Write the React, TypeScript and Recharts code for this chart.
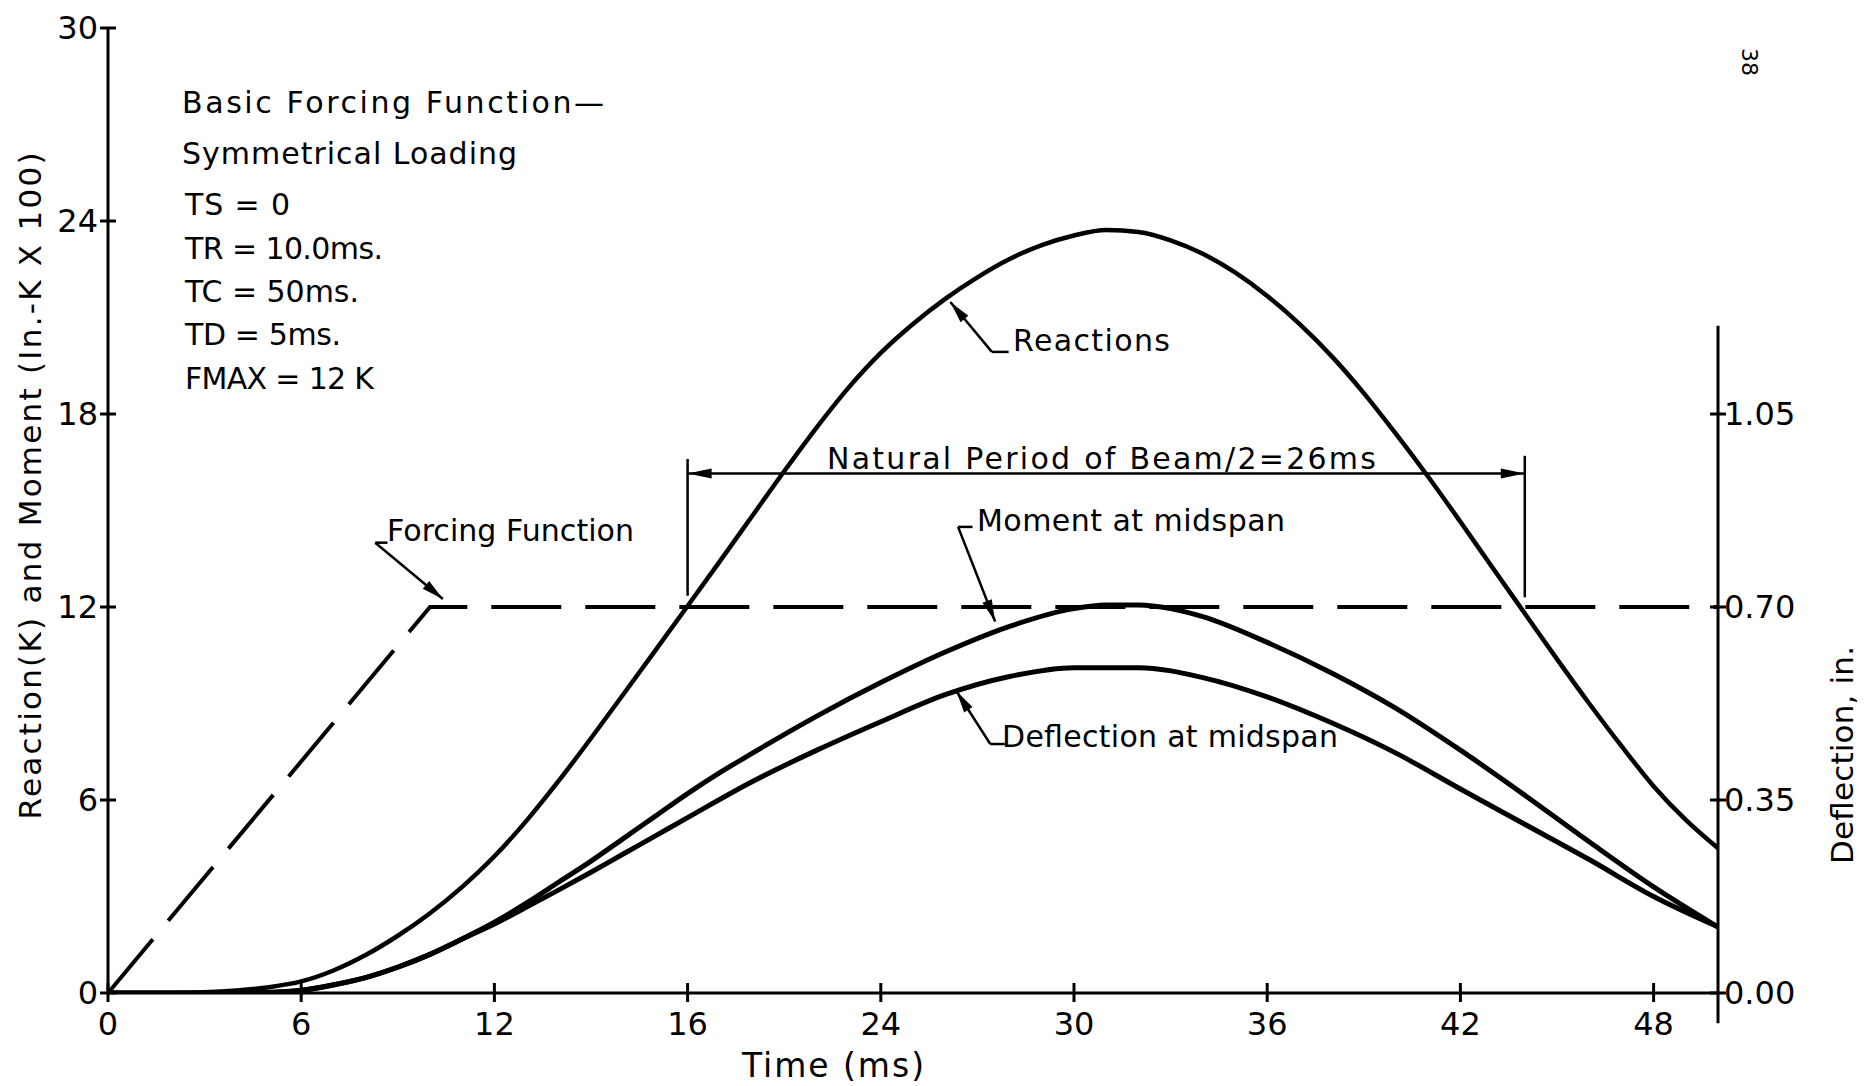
import React from 'react';
import { LineChart, Line, XAxis, YAxis, ReferenceLine } from 'recharts';

const W = 1876;
const H = 1086;
const FONT = '"DejaVu Sans", "Liberation Sans", sans-serif';

// ---- data (time in ms) ----
const reactionTime = [0, 2, 3, 4, 5, 6, 7, 8, 9, 10, 11, 12, 13, 14, 15, 16, 17, 18, 19, 20, 21, 22, 23, 24, 25, 26, 27, 28, 29, 30, 31, 32, 33, 34, 35, 36, 37, 38, 39, 40, 41, 42, 43, 44, 45, 46, 47, 48, 49, 50];
const reactionValue = [0, 0, 0.02, 0.08, 0.18, 0.36, 0.7, 1.18, 1.78, 2.48, 3.3, 4.25, 5.36, 6.6, 7.92, 9.28, 10.65, 12.03, 13.42, 14.82, 16.22, 17.57, 18.82, 19.9, 20.8, 21.58, 22.25, 22.82, 23.25, 23.55, 23.72, 23.66, 23.4, 22.98, 22.4, 21.67, 20.8, 19.8, 18.65, 17.38, 16.05, 14.65, 13.22, 11.8, 10.38, 9.0, 7.68, 6.43, 5.38, 4.5];

const momentTime = [0, 4, 5, 6, 7, 8, 9, 10, 11, 12, 13, 14, 15, 16, 17, 18, 19, 20, 22, 24, 26, 28, 30, 31, 32, 33, 34, 36, 38, 40, 42, 44, 46, 48, 50];
const momentValue = [0, 0, 0.02, 0.08, 0.25, 0.48, 0.8, 1.2, 1.68, 2.2, 2.8, 3.45, 4.1, 4.8, 5.5, 6.2, 6.85, 7.45, 8.6, 9.65, 10.6, 11.4, 11.95, 12.06, 12.06, 11.95, 11.7, 10.9, 9.95, 8.85, 7.55, 6.15, 4.7, 3.3, 2.05];

// deflection read on the right axis (inches)
const deflectionTime = [0, 4, 5, 6, 7, 8, 9, 10, 11, 12, 13, 14, 15, 16, 17, 18, 20, 22, 24, 26, 28, 30, 32, 34, 36, 38, 40, 42, 44, 46, 48, 50];
const deflectionValue = [0, 0, 0.001, 0.005, 0.015, 0.028, 0.047, 0.07, 0.098, 0.125, 0.156, 0.187, 0.219, 0.252, 0.285, 0.318, 0.383, 0.44, 0.492, 0.541, 0.574, 0.59, 0.59, 0.572, 0.537, 0.49, 0.435, 0.37, 0.306, 0.242, 0.175, 0.12];

const forcingTime = [0, 10, 50];
const forcingValue = [0, 12, 12];

const xTicks = [0, 6, 12, 18, 24, 30, 36, 42, 48];
const xTickLabels = ['0', '6', '12', '16', '24', '30', '36', '42', '48'];
const leftTicks = [0, 6, 12, 18, 24, 30];
const leftTickLabels = ['0', '6', '12', '18', '24', '30'];
const rightTicks = [0, 0.35, 0.7, 1.05];
const rightTickLabels = ['0.00', '0.35', '0.70', '1.05'];

const zip = (t: number[], v: number[]) => t.map((x, i) => ({ t: x, v: v[i] }));
const reactionData = zip(reactionTime, reactionValue);
const momentData = zip(momentTime, momentValue);
const deflectionData = zip(deflectionTime, deflectionValue);
const forcingData = zip(forcingTime, forcingValue);

const TICK_FS = 32;
const AXW = 60;

const XTick = (props: any) => {
  const { x, y, payload } = props;
  const i = xTicks.indexOf(payload.value);
  return (
    <g>
      <line x1={x} x2={x} y1={y - 10} y2={y + 9} stroke="#000" strokeWidth={3} />
      <text x={x} y={y + 31} textAnchor="middle" dominantBaseline="central" fontSize={TICK_FS} fontFamily={FONT} fill="#000">
        {xTickLabels[i]}
      </text>
    </g>
  );
};

const LeftTick = (props: any) => {
  const { x, y, payload } = props;
  const i = leftTicks.indexOf(payload.value);
  return (
    <g>
      <line x1={x - 8} x2={x + 8} y1={y} y2={y} stroke="#000" strokeWidth={3} />
      <text x={x - 10} y={y} textAnchor="end" dominantBaseline="central" fontSize={TICK_FS} fontFamily={FONT} fill="#000">
        {leftTickLabels[i]}
      </text>
    </g>
  );
};

const RightTick = (props: any) => {
  const { x, y, payload } = props;
  const i = rightTicks.findIndex((v) => Math.abs(v - payload.value) < 1e-6);
  return (
    <g>
      <line x1={x - 8} x2={x + 8} y1={y} y2={y} stroke="#000" strokeWidth={3} />
      <text x={x + 6} y={y} textAnchor="start" dominantBaseline="central" fontSize={TICK_FS} fontFamily={FONT} fill="#000">
        {rightTickLabels[i]}
      </text>
    </g>
  );
};

const arrowHead = (xt: number, yt: number, xf: number, yf: number, len = 20, half = 5) => {
  const dx = xt - xf;
  const dy = yt - yf;
  const d = Math.sqrt(dx * dx + dy * dy) || 1;
  const ux = dx / d;
  const uy = dy / d;
  const bx = xt - ux * len;
  const by = yt - uy * len;
  const px = -uy * half;
  const py = ux * half;
  return `${xt},${yt} ${bx + px},${by + py} ${bx - px},${by - py}`;
};

const plainSeg = (w: number) => (p: any) => (
  <line x1={p.x1} y1={p.y1} x2={p.x2} y2={p.y2} stroke="#000" strokeWidth={w} />
);

// arrow at (x1,y1) end
const arrowStartSeg = (w: number) => (p: any) => (
  <g>
    <line x1={p.x1} y1={p.y1} x2={p.x2} y2={p.y2} stroke="#000" strokeWidth={w} />
    <polygon points={arrowHead(p.x1, p.y1, p.x2, p.y2, 22, 5)} fill="#000" />
  </g>
);

const doubleArrowSeg = (p: any) => (
  <g>
    <line x1={p.x1} y1={p.y1} x2={p.x2} y2={p.y2} stroke="#000" strokeWidth={2.5} />
    <polygon points={arrowHead(p.x1, p.y1, p.x2, p.y2, 24, 5)} fill="#000" />
    <polygon points={arrowHead(p.x2, p.y2, p.x1, p.y1, 24, 5)} fill="#000" />
  </g>
);

type Ann = { text: string; x: number; y: number; w: number; fs?: number };
const annotations: Ann[] = [
  { text: 'Basic Forcing Function\u2014', x: 182, y: 102, w: 422 },
  { text: 'Symmetrical Loading', x: 182, y: 153, w: 335 },
  { text: 'TS = 0', x: 185, y: 204, w: 105 },
  { text: 'TR = 10.0ms.', x: 185, y: 248, w: 198 },
  { text: 'TC = 50ms.', x: 185, y: 291, w: 174 },
  { text: 'TD = 5ms.', x: 185, y: 334, w: 156 },
  { text: 'FMAX = 12 K', x: 185, y: 378, w: 189 },
  { text: 'Reactions', x: 1013, y: 340, w: 157 },
  { text: 'Natural Period of Beam/2=26ms', x: 827, y: 458, w: 549 },
  { text: 'Moment at midspan', x: 977, y: 520, w: 308 },
  { text: 'Deflection at midspan', x: 1002, y: 736, w: 336 },
  { text: 'Forcing Function', x: 387, y: 530, w: 247 },
];

export default function App() {
  return (
    <div style={{ position: 'absolute', left: 0, top: 0, width: W, height: H, background: '#fff' }}>
      <LineChart width={W} height={H} margin={{ top: 28, right: 158 - AXW, bottom: 93 - AXW, left: 108 - AXW }}>
        <XAxis
          dataKey="t"
          type="number"
          domain={[0, 50]}
          ticks={xTicks}
          interval={0}
          height={AXW}
          tickSize={0}
          tickMargin={0}
          tickLine={false}
          tick={<XTick />}
          axisLine={{ stroke: '#000', strokeWidth: 3 }}
          allowDataOverflow
        />
        <YAxis
          yAxisId="left"
          type="number"
          domain={[0, 30]}
          ticks={leftTicks}
          interval={0}
          width={AXW}
          tickSize={0}
          tickMargin={0}
          tickLine={false}
          tick={<LeftTick />}
          axisLine={{ stroke: '#000', strokeWidth: 3 }}
          allowDataOverflow
        />
        <YAxis
          yAxisId="right"
          orientation="right"
          type="number"
          domain={[0, 1.75]}
          ticks={rightTicks}
          interval={0}
          width={AXW}
          tickSize={0}
          tickMargin={0}
          tickLine={false}
          tick={<RightTick />}
          axisLine={false}
          allowDataOverflow
        />
        {/* right axis line (shorter than the plot) */}
        <ReferenceLine
          yAxisId="right"
          segment={[{ x: 50, y: -0.055 }, { x: 50, y: 1.21 }]}
          ifOverflow="visible"
          shape={plainSeg(3)}
        />
        <Line
          yAxisId="left"
          data={forcingData}
          dataKey="v"
          type="linear"
          stroke="#000"
          strokeWidth={4}
          strokeDasharray="70 24"
          dot={false}
          isAnimationActive={false}
        />
        <Line
          yAxisId="left"
          data={reactionData}
          dataKey="v"
          type="monotone"
          stroke="#000"
          strokeWidth={4.5}
          dot={false}
          isAnimationActive={false}
        />
        <Line
          yAxisId="left"
          data={momentData}
          dataKey="v"
          type="monotone"
          stroke="#000"
          strokeWidth={5}
          dot={false}
          isAnimationActive={false}
        />
        <Line
          yAxisId="right"
          data={deflectionData}
          dataKey="v"
          type="monotone"
          stroke="#000"
          strokeWidth={5}
          dot={false}
          isAnimationActive={false}
        />
        {/* natural period dimension */}
        <ReferenceLine yAxisId="left" segment={[{ x: 18, y: 12.35 }, { x: 18, y: 16.6 }]} ifOverflow="visible" shape={plainSeg(2.5)} />
        <ReferenceLine yAxisId="left" segment={[{ x: 44, y: 12.3 }, { x: 44, y: 16.7 }]} ifOverflow="visible" shape={plainSeg(2.5)} />
        <ReferenceLine yAxisId="left" segment={[{ x: 18, y: 16.15 }, { x: 44, y: 16.15 }]} ifOverflow="visible" shape={doubleArrowSeg} />
        {/* leaders */}
        <ReferenceLine yAxisId="left" segment={[{ x: 26.16, y: 21.48 }, { x: 27.45, y: 19.93 }]} ifOverflow="visible" shape={arrowStartSeg(2.5)} />
        <ReferenceLine yAxisId="left" segment={[{ x: 27.45, y: 19.93 }, { x: 27.97, y: 19.93 }]} ifOverflow="visible" shape={plainSeg(2.5)} />
        <ReferenceLine yAxisId="left" segment={[{ x: 27.55, y: 11.55 }, { x: 26.4, y: 14.49 }]} ifOverflow="visible" shape={arrowStartSeg(2.5)} />
        <ReferenceLine yAxisId="left" segment={[{ x: 26.4, y: 14.49 }, { x: 26.85, y: 14.49 }]} ifOverflow="visible" shape={plainSeg(2.5)} />
        <ReferenceLine yAxisId="left" segment={[{ x: 26.35, y: 9.38 }, { x: 27.4, y: 7.74 }]} ifOverflow="visible" shape={arrowStartSeg(2.5)} />
        <ReferenceLine yAxisId="left" segment={[{ x: 27.4, y: 7.74 }, { x: 27.85, y: 7.74 }]} ifOverflow="visible" shape={plainSeg(2.5)} />
        <ReferenceLine yAxisId="left" segment={[{ x: 10.4, y: 12.25 }, { x: 8.3, y: 14.0 }]} ifOverflow="visible" shape={arrowStartSeg(2.5)} />
        <ReferenceLine yAxisId="left" segment={[{ x: 8.3, y: 14.0 }, { x: 8.68, y: 14.0 }]} ifOverflow="visible" shape={plainSeg(2.5)} />
      </LineChart>
      <svg width={W} height={H} style={{ position: 'absolute', left: 0, top: 0, pointerEvents: 'none' }}>
        {annotations.map((a) => (
          <text
            key={a.text}
            x={a.x}
            y={a.y}
            dominantBaseline="central"
            fontSize={a.fs ?? 30}
            fontFamily={FONT}
            textLength={a.w}
            lengthAdjust="spacing"
            fill="#000"
          >
            {a.text}
          </text>
        ))}
        <text
          x={30}
          y={486}
          transform="rotate(-90 30 486)"
          textAnchor="middle"
          dominantBaseline="central"
          fontSize={31}
          fontFamily={FONT}
          textLength={667}
          lengthAdjust="spacing"
          fill="#000"
        >
          Reaction(K) and Moment (In.-K X 100)
        </text>
        <text
          x={1842}
          y={755}
          transform="rotate(-90 1842 755)"
          textAnchor="middle"
          dominantBaseline="central"
          fontSize={31}
          fontFamily={FONT}
          textLength={218}
          lengthAdjust="spacing"
          fill="#000"
        >
          Deflection, in.
        </text>
        <text
          x={833}
          y={1065}
          textAnchor="middle"
          dominantBaseline="central"
          fontSize={33}
          fontFamily={FONT}
          textLength={182}
          lengthAdjust="spacing"
          fill="#000"
        >
          Time (ms)
        </text>
        <text
          x={1749}
          y={62}
          transform="rotate(90 1749 62)"
          textAnchor="middle"
          dominantBaseline="central"
          fontSize={22}
          fontFamily={FONT}
          fill="#000"
        >
          38
        </text>
      </svg>
    </div>
  );
}
